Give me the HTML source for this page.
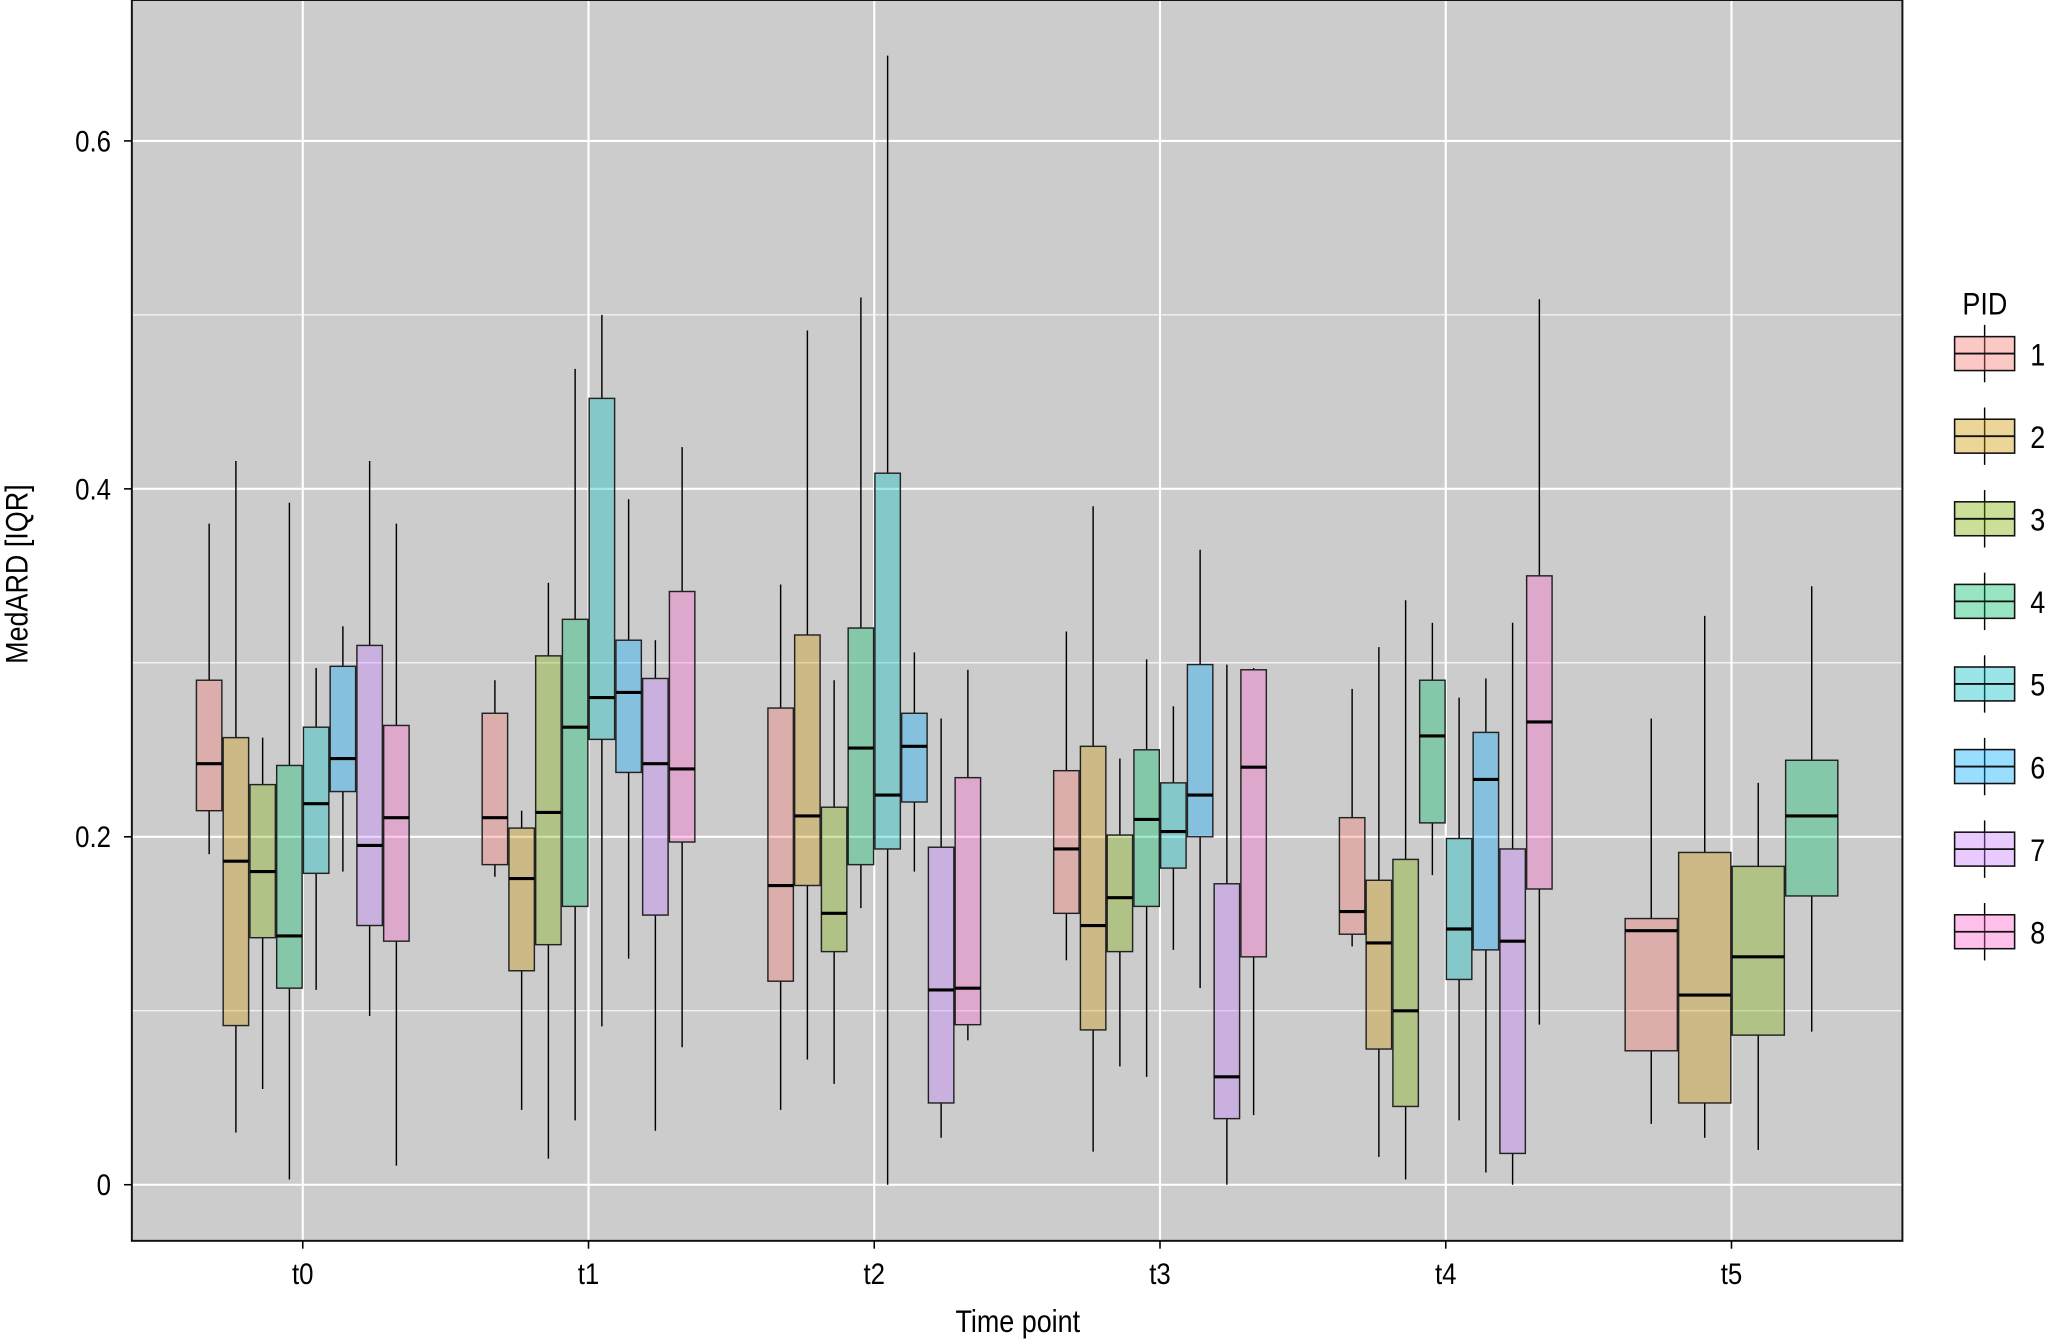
<!DOCTYPE html>
<html><head><meta charset="utf-8"><style>
html,body{margin:0;padding:0;background:#fff;}
svg{display:block;}
text{font-family:"Liberation Sans Narrow","Liberation Sans",sans-serif;fill:#000;}
</style></head><body>
<svg id="chart" width="2046" height="1340" viewBox="0 0 1568 1027" xmlns="http://www.w3.org/2000/svg">
<g id="panel"></g>
<g id="marks"></g>
<g id="axes"></g>
<g id="legend"></g>
</svg>
<script>
const categories = ["t0","t1","t2","t3","t4","t5"];
const pids = ["1","2","3","4","5","6","7","8"];
const colors = ["#F8766D","#CD9600","#7CAE00","#00BE67","#00BFC4","#00A9FF","#C77CFF","#FF61CC"];
const yTicks = [0,0.2,0.4,0.6];
const yMinor = [0.1,0.3,0.5];
// each row: [lowWhisker, q1, median, q3, highWhisker]; null = PID absent
const t0Stats = [[0.19,0.215,0.242,0.29,0.38],[0.03,0.0915,0.186,0.257,0.416],[0.055,0.142,0.18,0.23,0.257],[0.003,0.113,0.143,0.241,0.392],[0.112,0.179,0.219,0.263,0.297],[0.18,0.226,0.245,0.298,0.321],[0.097,0.149,0.195,0.31,0.416],[0.011,0.14,0.211,0.264,0.38]];
const t1Stats = [[0.177,0.184,0.211,0.271,0.29],[0.043,0.123,0.176,0.205,0.215],[0.015,0.138,0.214,0.304,0.346],[0.037,0.16,0.263,0.325,0.469],[0.091,0.256,0.28,0.452,0.5],[0.13,0.237,0.283,0.313,0.394],[0.031,0.155,0.242,0.291,0.313],[0.079,0.197,0.239,0.341,0.424]];
const t2Stats = [[0.043,0.117,0.172,0.274,0.345],[0.072,0.172,0.212,0.316,0.491],[0.058,0.134,0.156,0.217,0.29],[0.159,0.184,0.251,0.32,0.51],[0,0.193,0.224,0.409,0.649],[0.18,0.22,0.252,0.271,0.306],[0.027,0.047,0.112,0.194,0.268],[0.083,0.092,0.113,0.234,0.296]];
const t3Stats = [[0.129,0.156,0.193,0.238,0.318],[0.019,0.089,0.149,0.252,0.39],[0.068,0.134,0.165,0.201,0.245],[0.062,0.16,0.21,0.25,0.302],[0.135,0.182,0.203,0.231,0.275],[0.113,0.2,0.224,0.299,0.365],[0,0.038,0.062,0.173,0.299],[0.04,0.131,0.24,0.296,0.297]];
const t4Stats = [[0.137,0.144,0.157,0.211,0.285],[0.016,0.078,0.139,0.175,0.309],[0.003,0.045,0.1,0.187,0.336],[0.178,0.208,0.258,0.29,0.323],[0.037,0.118,0.147,0.199,0.28],[0.007,0.135,0.233,0.26,0.291],[0,0.018,0.14,0.193,0.323],[0.092,0.17,0.266,0.35,0.509]];
const t5Stats = [[0.035,0.077,0.146,0.153,0.268],[0.027,0.047,0.109,0.191,0.327],[0.02,0.086,0.131,0.183,0.231],[0.088,0.166,0.212,0.244,0.344],null,null,null,null];
const allStats = [t0Stats,t1Stats,t2Stats,t3Stats,t4Stats,t5Stats];

const NS="http://www.w3.org/2000/svg";
const PL=101,PR=1458,PT=0,PB=951;
const xScale = i => 232 + i*219;
const yScale = v => 908 - v*1333.33;
function mk(tag,attrs,parent){const e=document.createElementNS(NS,tag);for(const k in attrs)e.setAttribute(k,attrs[k]);parent.appendChild(e);return e;}
const panel=document.getElementById('panel'),marks=document.getElementById('marks'),axes=document.getElementById('axes'),legend=document.getElementById('legend');
const SQ="scale(0.86,1)";
function txt(x,y,anchor,size,parent,content){const g=mk('g',{transform:"translate("+x+","+y+") "+SQ},parent);const t=mk('text',{x:0,y:0,"text-anchor":anchor,"font-size":size},g);t.textContent=content;return t;}

const bg=mk('rect',{x:PL,y:PT,width:PR-PL,height:PB-PT,fill:"#cccccc"},panel);


yMinor.forEach(v=>{const l=mk('line',{x1:PL,x2:PR,y1:yScale(v),y2:yScale(v),stroke:"#fff","stroke-width":0.8},panel);

});
yTicks.forEach(v=>{const l=mk('line',{x1:PL,x2:PR,y1:yScale(v),y2:yScale(v),stroke:"#fff","stroke-width":1.6},panel);

});
categories.forEach((c,i)=>{const l=mk('line',{x1:xScale(i),x2:xScale(i),y1:PT,y2:PB,stroke:"#fff","stroke-width":1.6},panel);

});

allStats.forEach((stats,ci)=>{
  const present=stats.map((s,j)=>s?j:-1).filter(j=>j>=0);
  const n=present.length,total=164,w=total/n;
  present.forEach((j,k)=>{
    const s=stats[j];
    const x0=xScale(ci)-total/2+k*w;
    const g=mk('g',{},marks);
    
    
    const cx=x0+w/2;
    mk('line',{x1:cx,x2:cx,y1:yScale(s[4]),y2:yScale(s[3]),stroke:"#000","stroke-width":1.1},g);
    mk('line',{x1:cx,x2:cx,y1:yScale(s[1]),y2:yScale(s[0]),stroke:"#000","stroke-width":1.1},g);
    mk('rect',{x:x0+0.5,y:yScale(s[3]),width:w-1,height:yScale(s[1])-yScale(s[3]),fill:colors[j],"fill-opacity":0.35,stroke:"#222","stroke-width":1.1},g);
    mk('line',{x1:x0+0.5,x2:x0+w-0.5,y1:yScale(s[2]),y2:yScale(s[2]),stroke:"#000","stroke-width":2.4},g);
  });
});

const border=mk('rect',{x:PL,y:PT,width:PR-PL,height:PB-PT,fill:"none",stroke:"#111","stroke-width":1.5},axes);


yTicks.forEach(v=>{
  mk('line',{x1:PL-6,x2:PL,y1:yScale(v),y2:yScale(v),stroke:"#000","stroke-width":1.2},axes);
  const t=txt(PL-16,yScale(v)+8,"end",23,axes,v===0?"0":v.toFixed(1));
  
  
});
categories.forEach((c,i)=>{
  mk('line',{x1:xScale(i),x2:xScale(i),y1:PB,y2:PB+6,stroke:"#000","stroke-width":1.2},axes);
  const t=txt(xScale(i),PB+33,"middle",23,axes,c);
  
  
});
const xt=txt(780,1021,"middle",24,axes,"Time point");


const ytg=mk('g',{transform:"translate(21,440) rotate(-90) "+SQ},axes);
const yt=mk('text',{x:0,y:0,"text-anchor":"middle","font-size":24},ytg);
yt.textContent="MedARD [IQR]";



const lt=txt(1504,241,"start",24,legend,"PID");


pids.forEach((p,j)=>{
  const cy=271+j*63.3;
  const g=mk('g',{},legend);
  
  
  mk('line',{x1:1521,x2:1521,y1:cy-22,y2:cy+22,stroke:"#000","stroke-width":1.1},g);
  mk('rect',{x:1498,y:cy-13,width:46,height:26,fill:colors[j],"fill-opacity":0.4,stroke:"#111","stroke-width":1.2},g);
  mk('line',{x1:1498,x2:1544,y1:cy,y2:cy,stroke:"#111","stroke-width":1.4},g);
  txt(1556,cy+9,"start",24,g,p);
});
</script>
</body></html>
